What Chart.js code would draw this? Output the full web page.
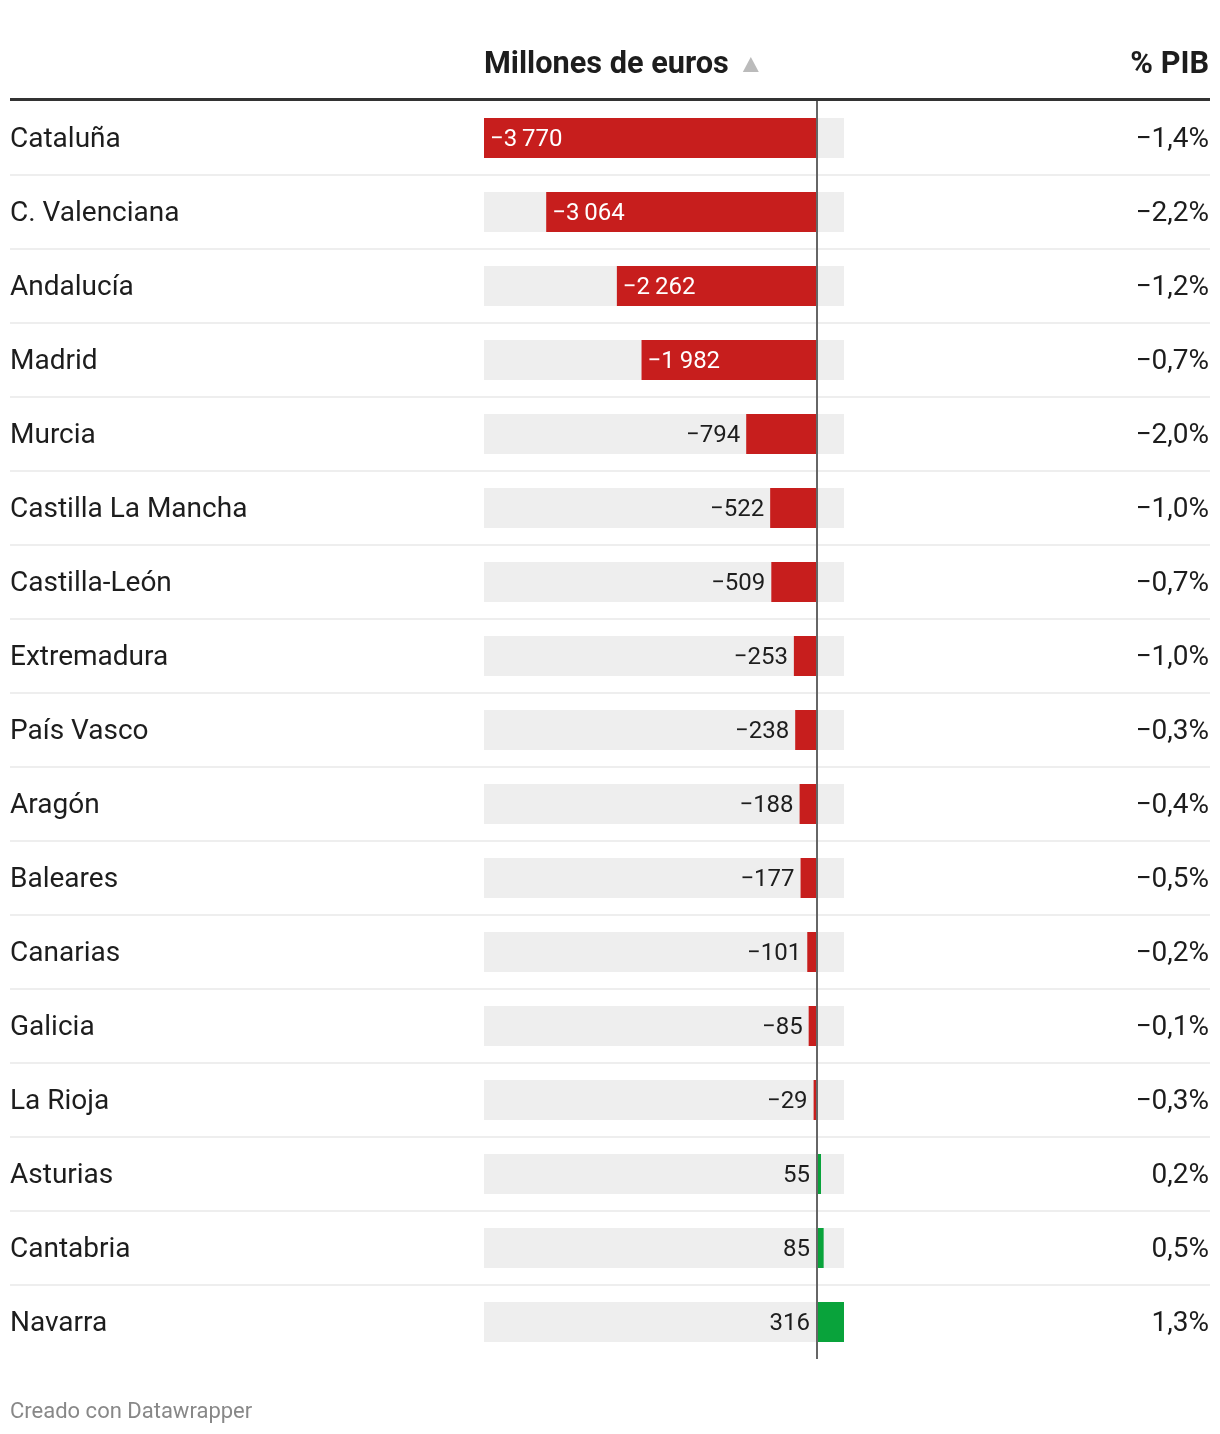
<!DOCTYPE html>
<html>
<head>
<meta charset="utf-8">
<script src="https://cdn.jsdelivr.net/npm/chart.js@4.4.1/dist/chart.umd.min.js"></script>
<style>
  html, body { margin: 0; padding: 0; background: #fff; }
  canvas { display: block; }
</style>
</head>
<body>
<canvas id="chart" width="1220" height="1434"></canvas>
<script>
// datos
const regiones = ['Cataluña', 'C. Valenciana', 'Andalucía', 'Madrid', 'Murcia', 'Castilla La Mancha',
  'Castilla-León', 'Extremadura', 'País Vasco', 'Aragón', 'Baleares', 'Canarias', 'Galicia',
  'La Rioja', 'Asturias', 'Cantabria', 'Navarra'];
const millones = [-3770, -3064, -2262, -1982, -794, -522, -509, -253, -238, -188, -177, -101, -85, -29, 55, 85, 316];
const pctPib = [-1.4, -2.2, -1.2, -0.7, -2.0, -1.0, -0.7, -1.0, -0.3, -0.4, -0.5, -0.2, -0.1, -0.3, 0.2, 0.5, 1.3];
const ejeMin = -3770;
const ejeMax = 316;

const FONT = 'Roboto, "Noto Sans", sans-serif';
const ROJO = '#c71e1d';
const VERDE = '#09a33b';

function fmtNum(v) {
  const s = Math.abs(v).toString().replace(/\B(?=(\d{3})+(?!\d))/g, '\u2009');
  return (v < 0 ? '\u2212' : '') + s;
}
function fmtPct(v) {
  return (v < 0 ? '\u2212' : '') + Math.abs(v).toFixed(1).replace('.', ',') + '%';
}

// Dibuja cabecera, etiquetas y columna % PIB
const tablaPlugin = {
  id: 'tabla',
  afterDatasetsDraw(chart) {
    const ctx = chart.ctx;
    const area = chart.chartArea;
    const yScale = chart.scales.y;
    const xScale = chart.scales.x;
    const rowH = (area.bottom - area.top) / regiones.length;
    ctx.save();

    // cabecera
    ctx.fillStyle = '#1d1d1d';
    ctx.font = 'bold 30.7px ' + FONT;
    ctx.textBaseline = 'middle';
    ctx.textAlign = 'left';
    ctx.fillText('Millones de euros', area.left, 65);
    const w = ctx.measureText('Millones de euros').width;
    ctx.fillStyle = '#bbbbbb';
    ctx.beginPath();
    const tx = area.left + w + 14;
    ctx.moveTo(tx, 72);
    ctx.lineTo(tx + 16, 72);
    ctx.lineTo(tx + 8, 57);
    ctx.closePath();
    ctx.fill();
    ctx.fillStyle = '#1d1d1d';
    ctx.textAlign = 'right';
    ctx.fillText('% PIB', 1209, 65);

    ctx.fillStyle = '#333333';
    ctx.fillRect(10, 98, 1200, 3);

    // separadores de filas
    ctx.fillStyle = '#eeeeee';
    for (let i = 1; i < regiones.length; i++) {
      const y = Math.round(area.top + rowH * i);
      ctx.fillRect(10, y - 1, 1200, 2);
    }

    // línea del cero
    const x0 = Math.round(xScale.getPixelForValue(0));
    ctx.fillStyle = '#666666';
    ctx.fillRect(x0, area.top, 2, area.bottom - area.top);

    // textos de filas
    const meta = chart.getDatasetMeta(1);
    regiones.forEach((r, i) => {
      const y = yScale.getPixelForValue(i) + 2;
      ctx.font = '28px ' + FONT;
      ctx.fillStyle = '#1d1d1d';
      ctx.textAlign = 'left';
      ctx.fillText(r, 10, y);
      ctx.textAlign = 'right';
      ctx.fillText(fmtPct(pctPib[i]), 1209, y);

      const v = millones[i];
      const txt = fmtNum(v);
      ctx.font = '24px ' + FONT;
      const tw = ctx.measureText(txt).width;
      const bar = meta.data[i];
      const start = Math.min(bar.x, bar.base);
      const ancho = Math.abs(bar.x - bar.base);
      if (v < 0 && ancho > tw + 60) {
        ctx.fillStyle = '#ffffff';
        ctx.textAlign = 'left';
        ctx.fillText(txt, start + 6, y);
      } else {
        ctx.fillStyle = '#1d1d1d';
        ctx.textAlign = 'right';
        ctx.fillText(txt, (v < 0 ? start : x0) - 6, y);
      }
    });

    // pie
    ctx.fillStyle = '#888888';
    ctx.font = '22px ' + FONT;
    ctx.textAlign = 'left';
    ctx.fillText('Creado con Datawrapper', 10, 1412);
    ctx.restore();
  }
};

new Chart(document.getElementById('chart'), {
  type: 'bar',
  data: {
    labels: regiones,
    datasets: [
      {
        label: 'fondo',
        data: regiones.map(() => [ejeMin, ejeMax]),
        backgroundColor: '#eeeeee',
        grouped: false,
        order: 2
      },
      {
        label: 'Millones de euros',
        data: millones,
        backgroundColor: millones.map(v => v < 0 ? ROJO : VERDE),
        grouped: false,
        order: 1
      }
    ]
  },
  options: {
    indexAxis: 'y',
    responsive: false,
    animation: false,
    devicePixelRatio: 1,
    layout: { padding: { left: 484, right: 376, top: 101, bottom: 75 } },
    datasets: { bar: { categoryPercentage: 1, barPercentage: 40 / 74 } },
    scales: {
      x: { display: false, min: ejeMin, max: ejeMax },
      y: { display: false }
    },
    plugins: { legend: { display: false }, tooltip: { enabled: false } }
  },
  plugins: [tablaPlugin]
});
</script>
</body>
</html>
